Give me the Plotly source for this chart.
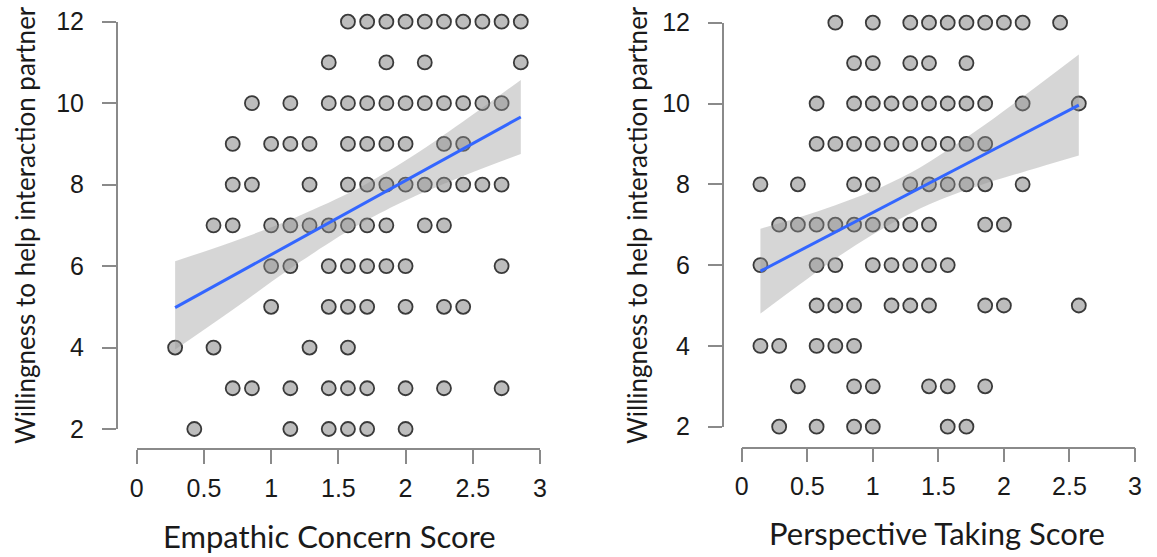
import plotly.graph_objects as go

# ---------------- Data (x scores are in sevenths of a point) ----------------
# Panel A: Empathic Concern Score vs willingness to help
ec_score_7ths = [
    11, 12, 13, 14, 15, 16, 17, 18, 19, 20,          # y = 12
    10, 13, 15, 20,                                   # y = 11
    6, 8, 10, 11, 12, 13, 14, 15, 16, 17, 18, 19,     # y = 10
    5, 7, 8, 9, 11, 12, 13, 14, 16, 17,               # y = 9
    5, 6, 9, 11, 12, 13, 14, 15, 16, 17, 18, 19,      # y = 8
    4, 5, 7, 8, 9, 10, 11, 12, 13, 15, 16,            # y = 7
    7, 8, 10, 11, 12, 13, 14, 19,                     # y = 6
    7, 10, 11, 12, 14, 16, 17,                        # y = 5
    2, 4, 9, 11,                                      # y = 4
    5, 6, 8, 10, 11, 12, 14, 16, 19,                  # y = 3
    3, 8, 10, 11, 12, 14,                             # y = 2
]
ec_help = ([12] * 10 + [11] * 4 + [10] * 12 + [9] * 10 + [8] * 12 + [7] * 11
           + [6] * 8 + [5] * 7 + [4] * 4 + [3] * 9 + [2] * 6)

# Panel B: Perspective Taking Score vs willingness to help
pt_score_7ths = [
    5, 7, 9, 10, 11, 12, 13, 14, 15, 17,              # y = 12
    6, 7, 9, 10, 12,                                  # y = 11
    4, 6, 7, 8, 9, 10, 11, 12, 13, 15, 18,            # y = 10
    4, 5, 6, 7, 8, 9, 10, 11, 12, 13,                 # y = 9
    1, 3, 6, 7, 9, 10, 11, 12, 13, 15,                # y = 8
    2, 3, 4, 5, 6, 7, 8, 9, 10, 13, 14,               # y = 7
    1, 4, 5, 7, 8, 9, 10, 11,                         # y = 6
    4, 5, 6, 8, 9, 10, 13, 14, 18,                    # y = 5
    1, 2, 4, 5, 6,                                    # y = 4
    3, 6, 7, 10, 11, 13,                              # y = 3
    2, 4, 6, 7, 11, 12,                               # y = 2
]
pt_help = ([12] * 10 + [11] * 5 + [10] * 11 + [9] * 10 + [8] * 10 + [7] * 11
           + [6] * 8 + [5] * 9 + [4] * 5 + [3] * 6 + [2] * 6)

# Linear fit lines and 95% confidence bands
ec_fit_x = [2 / 7, 20 / 7]
ec_fit_y = [4.98, 9.66]
ec_band_x = [2 / 7, 5 / 7, 8 / 7, 11 / 7, 12 / 7, 14 / 7, 17 / 7, 20 / 7]
ec_band_lo = [3.95, 4.93, 5.94, 6.86, 7.13, 7.61, 8.21, 8.75]
ec_band_hi = [6.12, 6.60, 7.14, 7.78, 8.03, 8.59, 9.55, 10.57]

pt_fit_x = [1 / 7, 18 / 7]
pt_fit_y = [5.85, 9.96]
pt_band_x = [1 / 7, 3 / 7, 5 / 7, 7 / 7, 9 / 7, 11 / 7, 13 / 7, 15 / 7, 18 / 7]
pt_band_lo = [4.80, 5.49, 6.16, 6.76, 7.28, 7.69, 8.02, 8.30, 8.71]
pt_band_hi = [6.90, 7.17, 7.48, 7.84, 8.28, 8.85, 9.48, 10.16, 11.21]

x_ticks = [0, 0.5, 1, 1.5, 2, 2.5, 3]
x_tick_text = ["0", "0.5", "1", "1.5", "2", "2.5", "3"]
y_ticks = [2, 4, 6, 8, 10, 12]
y_tick_text = ["2", "4", "6", "8", "10", "12"]

x_titles = ["Empathic Concern Score", "Perspective Taking Score"]
y_title = "Willingness to help interaction partner"

# ---------------- Styling ----------------
W, H = 1157, 557
POINT_FILL = "#bdbdbd"
POINT_EDGE = "#3a3a3a"
BAND = "rgba(153,153,153,0.4)"
LINE = "#3366FF"
AXIS = "#8a8a8a"
TICK_FONT = dict(family="Liberation Sans, Arial, sans-serif", size=25, color="#1a1a1a")
TITLE_FAMILY = "Lato, Open Sans, sans-serif"

fig = go.Figure()

panels = [
    (ec_score_7ths, ec_help, ec_fit_x, ec_fit_y, ec_band_x, ec_band_lo, ec_band_hi, "x", "y"),
    (pt_score_7ths, pt_help, pt_fit_x, pt_fit_y, pt_band_x, pt_band_lo, pt_band_hi, "x2", "y2"),
]

for sc7, hy, fx, fy, bx, blo, bhi, xa, ya in panels:
    xs = [k / 7 for k in sc7]
    fig.add_trace(go.Scatter(
        x=xs, y=hy, mode="markers", xaxis=xa, yaxis=ya, cliponaxis=False,
        marker=dict(size=14, color=POINT_FILL, line=dict(color=POINT_EDGE, width=1.8)),
        showlegend=False, hoverinfo="x+y"))
    fig.add_trace(go.Scatter(
        x=bx, y=blo, mode="lines", line=dict(width=0, shape="spline"),
        xaxis=xa, yaxis=ya, showlegend=False, hoverinfo="skip"))
    fig.add_trace(go.Scatter(
        x=bx, y=bhi, mode="lines", fill="tonexty", fillcolor=BAND,
        line=dict(width=0, shape="spline"),
        xaxis=xa, yaxis=ya, showlegend=False, hoverinfo="skip"))
    fig.add_trace(go.Scatter(
        x=fx, y=fy, mode="lines", line=dict(color=LINE, width=3),
        xaxis=xa, yaxis=ya, showlegend=False, hoverinfo="skip"))

def px_x(p):
    return p / W

def px_y(p):
    return 1 - p / H

common_x = dict(range=[0, 3], tickvals=x_ticks, ticktext=x_tick_text, showgrid=False,
                zeroline=False, showline=True, linecolor=AXIS, linewidth=1.5,
                ticks="outside", ticklen=14, tickwidth=1.5, tickcolor=AXIS,
                tickfont=TICK_FONT, anchor="free", ticklabelstandoff=3, automargin=False)
common_y = dict(range=[2, 12], tickvals=y_ticks, ticktext=y_tick_text, showgrid=False,
                zeroline=False, showline=True, linecolor=AXIS, linewidth=1.5,
                ticks="outside", ticklen=14, tickwidth=1.5, tickcolor=AXIS,
                tickfont=TICK_FONT, anchor="free", ticklabelstandoff=13, automargin=False)

fig.update_layout(
    template="none",
    width=W, height=H,
    margin=dict(l=0, r=0, t=0, b=0, autoexpand=False),
    paper_bgcolor="white", plot_bgcolor="white",
    xaxis=dict(common_x, domain=[px_x(136.7), px_x(540)], position=px_y(449)),
    yaxis=dict(common_y, domain=[px_y(429), px_y(21.7)], position=px_x(116.7)),
    xaxis2=dict(common_x, domain=[px_x(741.7), px_x(1135)], position=px_y(447.7)),
    yaxis2=dict(common_y, domain=[px_y(426.7), px_y(22.7)], position=px_x(722.7)),
)

annotations = [
    dict(text=x_titles[0], x=px_x(329), y=0, xref="paper", yref="paper",
         xanchor="center", yanchor="bottom", showarrow=False,
         font=dict(family=TITLE_FAMILY, size=31, color="#1a1a1a")),
    dict(text=x_titles[1], x=px_x(937), y=px_y(554), xref="paper", yref="paper",
         xanchor="center", yanchor="bottom", showarrow=False,
         font=dict(family=TITLE_FAMILY, size=31, color="#1a1a1a")),
    dict(text=y_title, x=px_x(25), y=px_y(225), xref="paper", yref="paper",
         xanchor="center", yanchor="middle", showarrow=False, textangle=-90,
         font=dict(family=TITLE_FAMILY, size=26, color="#1a1a1a")),
    dict(text=y_title, x=px_x(637), y=px_y(225), xref="paper", yref="paper",
         xanchor="center", yanchor="middle", showarrow=False, textangle=-90,
         font=dict(family=TITLE_FAMILY, size=26, color="#1a1a1a")),
]
fig.update_layout(annotations=annotations)

fig.write_html("out.html", config={"displayModeBar": False},
               post_script="document.body.style.margin='0';")
